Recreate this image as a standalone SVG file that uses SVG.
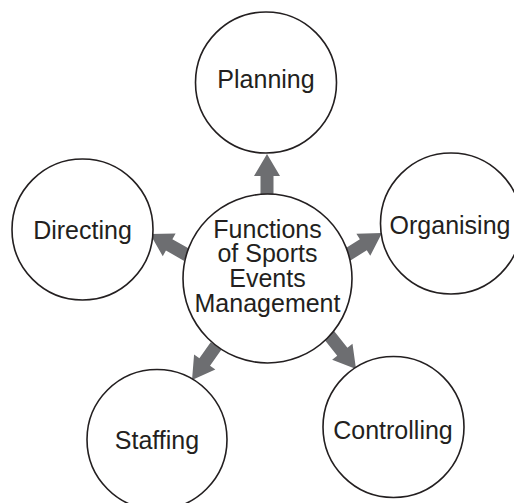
<svg xmlns="http://www.w3.org/2000/svg" width="514" height="503" viewBox="0 0 514 503">
<style>
.node circle{fill:#fff;stroke:#231f20;stroke-width:1.6}
text{font-family:"Liberation Sans",Arial,sans-serif;font-size:25px;fill:#231f20;text-anchor:middle}
.arrow{fill:#6d6e71}
</style>
<defs>
<polygon id="a" points="0,-6.5 1,-6.5 1,-13 23,0 1,13 1,6.5 0,6.5"/>
</defs>
<rect width="514" height="503" fill="#fff"/>
<g id="connectors">
<polygon class="arrow" points="0,-6.5 21,-6.5 21,-13 43,0 21,13 21,6.5 0,6.5" transform="translate(267,197) rotate(-90)"/>
<polygon class="arrow" points="0,-6.5 20.5,-6.5 20.5,-13 42.5,0 20.5,13 20.5,6.5 0,6.5" transform="translate(187,255) rotate(209.6)"/>
<polygon class="arrow" points="0,-6.5 19.3,-6.5 19.3,-13 41.3,0 19.3,13 19.3,6.5 0,6.5" transform="translate(347,255) rotate(-32.2)"/>
<polygon class="arrow" points="0,-6.5 19.6,-6.5 19.6,-13 41.6,0 19.6,13 19.6,6.5 0,6.5" transform="translate(216,346) rotate(125.2)"/>
<polygon class="arrow" points="0,-6.5 21.4,-6.5 21.4,-13 43.4,0 21.4,13 21.4,6.5 0,6.5" transform="translate(329,335) rotate(51.5)"/>
</g>
<g id="center" class="node">
<circle cx="267.5" cy="278.5" r="84.5"/>
<text x="267.5" y="237.5">Functions</text>
<text x="267.5" y="262">of Sports</text>
<text x="267.5" y="287">Events</text>
<text x="267.5" y="311.5">Management</text>
</g>
<g id="planning" class="node">
<circle cx="266" cy="82.5" r="70.5"/>
<text x="266" y="88">Planning</text>
</g>
<g id="organising" class="node">
<circle cx="451" cy="223.5" r="70.5"/>
<text x="450" y="234">Organising</text>
</g>
<g id="controlling" class="node">
<circle cx="393.5" cy="427" r="70.5"/>
<text x="393" y="439">Controlling</text>
</g>
<g id="staffing" class="node">
<circle cx="157" cy="439.5" r="70"/>
<text x="157" y="449">Staffing</text>
</g>
<g id="directing" class="node">
<circle cx="82.5" cy="229.5" r="70.5"/>
<text x="82.5" y="239">Directing</text>
</g>
</svg>
